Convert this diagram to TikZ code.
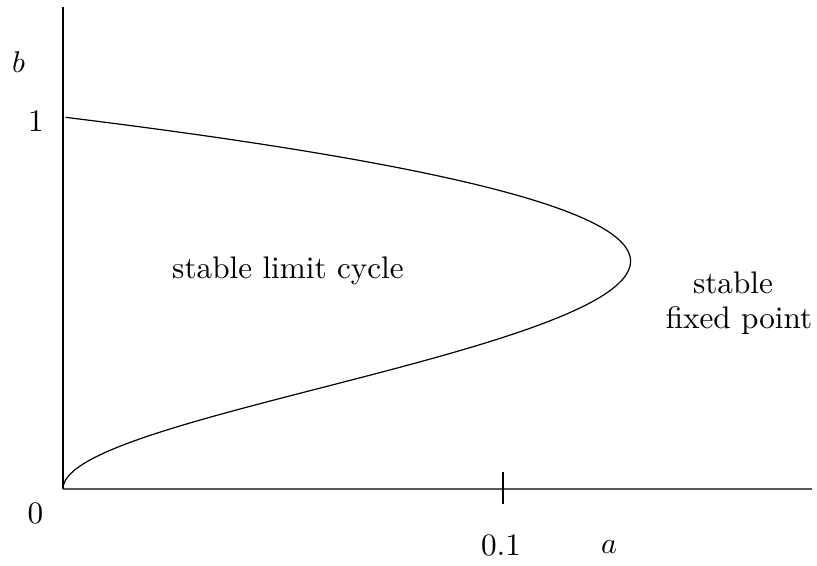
\documentclass[tikz,border=0pt]{standalone}
\begin{document}
\begin{tikzpicture}[x=0.33333pt,y=-0.33333pt,
  lbl/.style={inner sep=0pt, anchor=base, font=\fontsize{10.4}{12}\selectfont},
  axisv/.style={line width=0.35pt, draw=black},
  axish/.style={line width=0.55pt, draw=black!65},
  curve/.style={line width=0.4pt, draw=black}]
\useasboundingbox (0,0) rectangle (817,565);
\coordinate (O) at (63,489);
\coordinate (ytop) at (63,7);
\coordinate (xend) at (812,489);
\coordinate (tickT) at (503,472);
\coordinate (tickB) at (503,504);
\draw[axisv] (O) -- (ytop);
\draw[axish] (O) -- (xend);
\draw[axisv] (tickT) -- (tickB);
\draw[curve] plot[domain=0:1, samples=300, variable=\t, smooth]
  ({63+4540*(sqrt(8*\t*\t+1)-2*\t*\t-1)/2}, {489-372*\t});
\node[lbl] (bl) at (18.5,72) {$b$};
\node[lbl] (one) at (36,131) {1};
\node[lbl] (zero) at (35.5,523) {0};
\node[lbl] (tenth) at (501,555) {0.1};
\node[lbl] (al) at (609,553) {$a$};
\node[lbl] (lc) at (288,278) {stable limit cycle};
\node[lbl] (fp1) at (733,293) {stable};
\node[lbl] (fp2) at (739,328) {fixed point};
\end{tikzpicture}
\end{document}
